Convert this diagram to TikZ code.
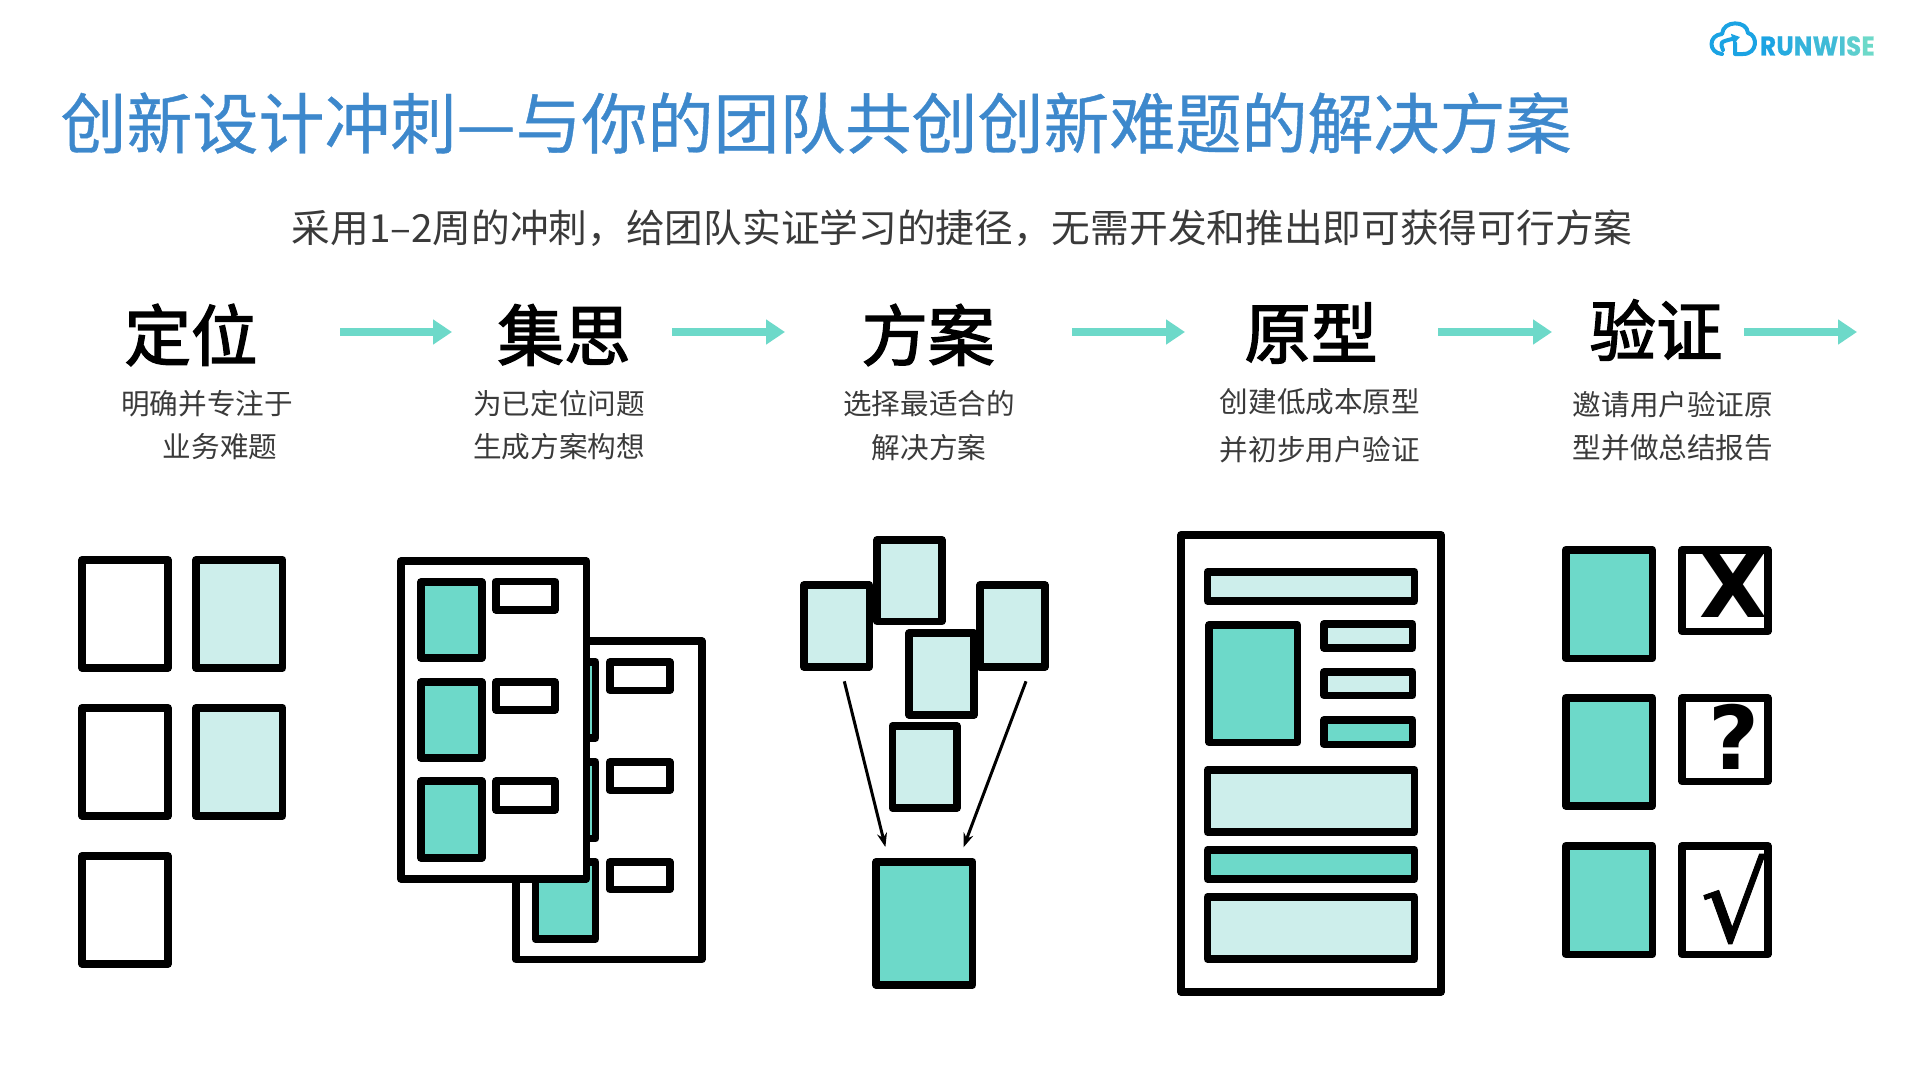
\documentclass[tikz,border=0pt]{standalone}
\usepackage{fontspec}
\usetikzlibrary{arrows.meta}
\newfontfamily\cjk{Noto Sans CJK SC}
\newfontfamily\cjktitle[FakeBold=0.6]{Noto Sans CJK SC}
\newfontfamily\cjkhead[FakeBold=2.2]{Noto Sans CJK SC}
\newfontfamily\dejab{DejaVu Sans Bold}
\newfontfamily\dejav[FakeBold=0.8]{DejaVu Sans}
\newfontfamily\logofont[FakeStretch=0.9,FakeBold=0.8]{Poppins}
\definecolor{teal}{HTML}{6DD9C9}
\definecolor{pale}{HTML}{CDEEEB}
\definecolor{titleblue}{HTML}{3D88CC}
\definecolor{subgrey}{HTML}{3A3A3A}
\definecolor{logoblue}{HTML}{1BA3E3}
\tikzset{
  card/.style={draw=black,line width=7.5pt,line join=round},
  titletext/.style={inner sep=0pt,text=titleblue,font=\cjktitle\fontsize{66}{67}\selectfont},
  subtext/.style={inner sep=0pt,text=subgrey,font=\cjk\fontsize{38.7}{40}\selectfont},
  headtext/.style={inner sep=0pt,text=black,font=\cjkhead\fontsize{66.5}{67}\selectfont},
  desctext/.style={inner sep=0pt,text=subgrey,font=\cjk\fontsize{28.6}{30}\selectfont},
  flow/.style={draw=teal,line width=8pt,-{Triangle[length=19pt,width=24pt]}},
  converge/.style={draw=black,line width=3pt,-{Stealth[length=14pt,width=10pt]}},
  logoletter/.style={inner sep=0pt,font=\logofont\bfseries\fontsize{27}{27}\selectfont},
  cloudline/.style={draw=logoblue,line width=4pt,line cap=round,line join=round}
}
\newcommand{\bx}[5]{\draw[card,fill=#5] ([shift={(3.75,3.75)}]#1,#2) rectangle ([shift={(-3.75,-3.75)}]#3,#4);}
\begin{document}
\begin{tikzpicture}[x=1pt,y=-1pt]
\useasboundingbox (0,0) rectangle (1920,1080);
\fill[white] (0,0) rectangle (1920,1080);
% title
\node[titletext,anchor=center] (title) at (816,123) {创新设计冲刺—与你的团队共创创新难题的解决方案};
\node[subtext] (sub) at (962,228) {采用1–2周的冲刺，给团队实证学习的捷径，无需开发和推出即可获得可行方案};
% headings
\node[headtext] (h1) at (191,335) {定位};
\node[headtext] (h2) at (564,335) {集思};
\node[headtext] (h3) at (928,335) {方案};
\node[headtext] (h4) at (1311,333) {原型};
\node[headtext] (h5) at (1656,330) {验证};
% descriptions
\node[desctext] (d1a) at (207,404) {明确并专注于};
\node[desctext] (d1b) at (220,447) {业务难题};
\node[desctext] (d2a) at (559,404) {为已定位问题};
\node[desctext] (d2b) at (559,447) {生成方案构想};
\node[desctext] (d3a) at (929,404) {选择最适合的};
\node[desctext] (d3b) at (929,448) {解决方案};
\node[desctext] (d4a) at (1320,402) {创建低成本原型};
\node[desctext] (d4b) at (1320,450) {并初步用户验证};
\node[desctext] (d5a) at (1673,405) {邀请用户验证原};
\node[desctext] (d5b) at (1673,448) {型并做总结报告};
% flow arrows
\coordinate (f1s) at (340,332); \coordinate (f1e) at (452,332);
\coordinate (f2s) at (672,332); \coordinate (f2e) at (785,332);
\coordinate (f3s) at (1072,332); \coordinate (f3e) at (1185,332);
\coordinate (f4s) at (1438,332); \coordinate (f4e) at (1552,332);
\coordinate (f5s) at (1744,332); \coordinate (f5e) at (1857,332);
\draw[flow] (f1s) -- (f1e);
\draw[flow] (f2s) -- (f2e);
\draw[flow] (f3s) -- (f3e);
\draw[flow] (f4s) -- (f4e);
\draw[flow] (f5s) -- (f5e);
% group 1
\bx{78.4}{556}{171.7}{671.7}{white}
\bx{192.2}{556}{286.4}{671.7}{pale}
\bx{78.4}{704}{171.7}{819.7}{white}
\bx{192.2}{704}{286.4}{819.7}{pale}
\bx{78.4}{852}{171.7}{967.7}{white}
% group 2 back sheet
\bx{512.3}{637.3}{705.6}{963.3}{white}
\bx{531.5}{658.3}{599.4}{741.7}{teal}
\bx{531.5}{758.3}{599.4}{842.3}{teal}
\bx{531.5}{858.3}{599.4}{942.7}{teal}
\bx{606}{658.3}{673.5}{694}{white}
\bx{606}{758.3}{673.5}{794}{white}
\bx{606}{858.3}{673.5}{893.3}{white}
% group 2 front sheet
\bx{397}{557.3}{590}{882.7}{white}
\bx{417.2}{578.3}{485.5}{661.7}{teal}
\bx{417.2}{678.3}{485.5}{761.7}{teal}
\bx{417.2}{777.3}{485.5}{861.7}{teal}
\bx{492.2}{577.7}{558.8}{613.7}{white}
\bx{492.2}{678.3}{558.8}{713.7}{white}
\bx{492.2}{777.3}{558.8}{813.7}{white}
% group 3
\bx{800}{581.3}{873}{670.7}{pale}
\bx{873.3}{536}{945.6}{625.3}{pale}
\bx{976.4}{581.3}{1048.8}{670.7}{pale}
\bx{905.4}{629.3}{977.8}{718.7}{pale}
\bx{888.5}{722.3}{960.8}{811.7}{pale}
\bx{872.4}{858}{976.4}{988.7}{teal}
\coordinate (c1s) at (844.3,681.3); \coordinate (c1e) at (885.4,847);
\coordinate (c2s) at (1026,681.3); \coordinate (c2e) at (963.5,847.3);
\draw[converge] (c1s) -- (c1e);
\draw[converge] (c2s) -- (c2e);
% group 4
\bx{1177.3}{531}{1444.7}{995.7}{white}
\bx{1203.7}{568}{1418.4}{604.7}{pale}
\bx{1205.4}{621}{1301}{746}{teal}
\bx{1320.2}{620}{1416.2}{651.7}{pale}
\bx{1320.2}{668}{1416.2}{699}{pale}
\bx{1320.2}{716}{1416.2}{748}{teal}
\bx{1203.7}{766}{1418.4}{835.7}{pale}
\bx{1203.7}{846.3}{1418.4}{882.7}{teal}
\bx{1203.7}{893.3}{1418.4}{962.7}{pale}
% group 5
\bx{1562}{546}{1656}{662}{teal}
\bx{1562}{694}{1656}{809.7}{teal}
\bx{1562}{842}{1656}{958}{teal}
\bx{1678.3}{546}{1771.7}{635}{white}
\bx{1678.3}{694}{1771.7}{785}{white}
\bx{1678.3}{842}{1771.7}{958}{white}
\node[inner sep=0pt,font=\dejab\fontsize{88}{88}\selectfont] (mx) at (1733,585) {X};
\node[inner sep=0pt,font=\dejab\fontsize{88}{88}\selectfont] (mq) at (1734,737) {?};
\node[inner sep=0pt,font=\dejav\fontsize{108}{108}\selectfont] (mc) at (1735,899) {√};
% logo
\draw[cloudline] (1722,54) .. controls (1708,53) and (1708,35) .. (1722,34) .. controls (1723,20) and (1747,20) .. (1748,33)
  .. controls (1758,35) and (1758,54) .. (1743,54) -- (1735,54) -- (1735,43);
\draw[cloudline,-{Triangle[length=8pt,width=10pt]}] (1723,50) .. controls (1720,42) .. (1740,37);
\node[logoletter,anchor=west,text=logoblue!100!teal] (l1) at (1760,46) {R};
\node[logoletter,anchor=west,text=logoblue!85!teal] (l2) at (l1.east) {U};
\node[logoletter,anchor=west,text=logoblue!70!teal] (l3) at (l2.east) {N};
\node[logoletter,anchor=west,text=logoblue!55!teal] (l4) at (l3.east) {W};
\node[logoletter,anchor=west,text=logoblue!40!teal] (l5) at (l4.east) {I};
\node[logoletter,anchor=west,text=logoblue!20!teal] (l6) at (l5.east) {S};
\node[logoletter,anchor=west,text=teal] (l7) at (l6.east) {E};
\end{tikzpicture}
\end{document}
